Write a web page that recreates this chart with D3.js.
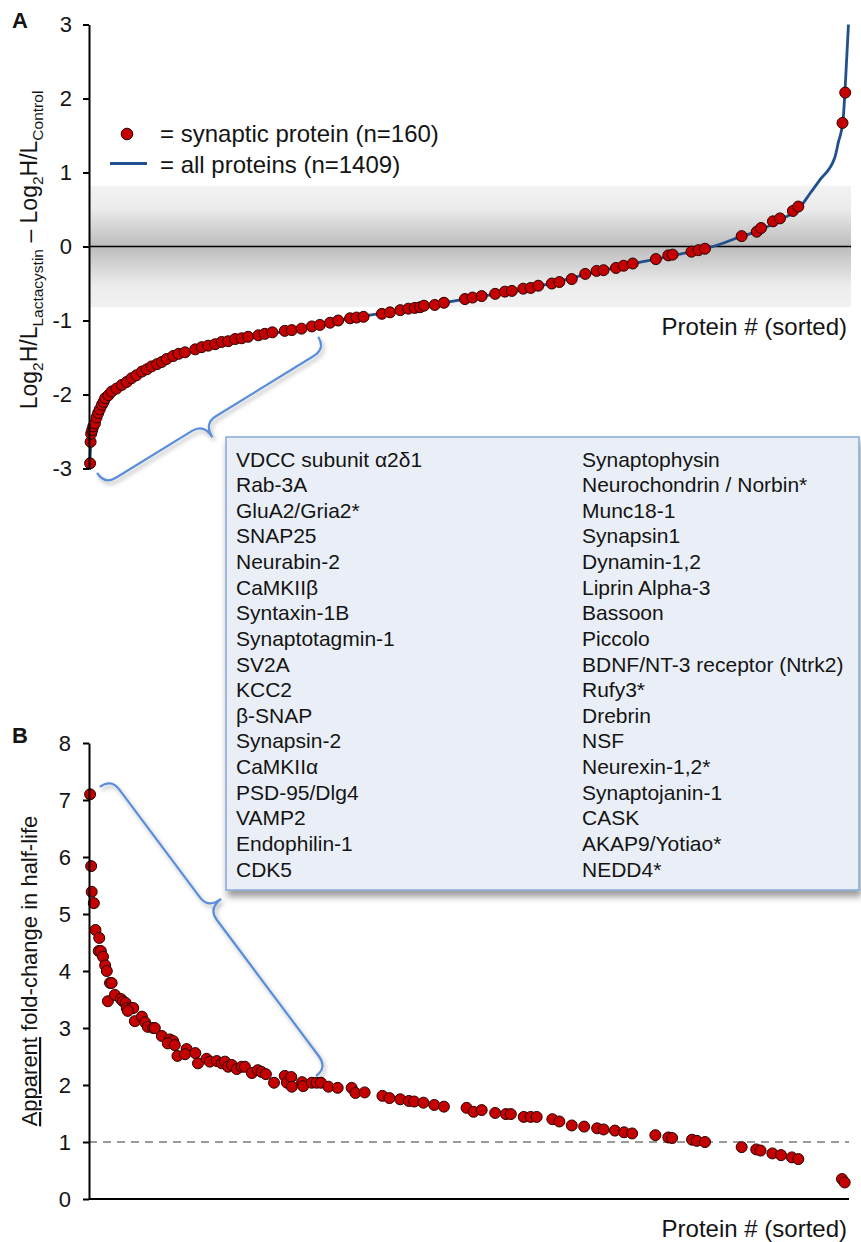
<!DOCTYPE html>
<html>
<head>
<meta charset="utf-8">
<script src="https://cdn.jsdelivr.net/npm/d3@7"></script>
<style>
  html, body { margin: 0; padding: 0; background: #fff; }
  svg { display: block; font-family: "Liberation Sans", Arial, sans-serif; }
</style>
</head>
<body>
<svg id="chart" width="861" height="1242"></svg>
<script>
// ---- data ----
var nProteins = 1409;

// all proteins, panel A: [rank, log2 difference]
var allProteinsA = [
  [1,-3.02],[3,-2.7],[6,-2.48],[11,-2.38],[20,-2.2],[30,-2.06],[42,-1.96],[70,-1.83],
  [107,-1.66],[156,-1.48],[209,-1.36],[283,-1.24],[376,-1.13],[462,-1.0],[577,-0.86],
  [697,-0.71],[819,-0.56],[920,-0.38],[1008,-0.23],[1051,-0.17],[1117,-0.07],[1157,0.0],
  [1207,0.13],[1244,0.22],[1281,0.36],[1318,0.53],[1337,0.72],[1355,0.9],[1383,1.21],
  [1389,1.4],[1398,1.71],[1402,2.16],[1408,3.0]
];

// synaptic proteins, panel A: [rank, log2 difference]
var synapticA = [
  [2,-2.93],[3,-2.64],[4,-2.53],[6,-2.48],[8,-2.43],[11,-2.39],[14,-2.31],[17,-2.25],
  [20,-2.2],[24,-2.14],[27,-2.1],[30,-2.05],[36,-2.01],[42,-1.96],[51,-1.92],[61,-1.87],
  [70,-1.83],[79,-1.78],[88,-1.74],[98,-1.69],[107,-1.66],[116,-1.62],[126,-1.59],
  [135,-1.56],[144,-1.52],[156,-1.48],[166,-1.45],[178,-1.43],[197,-1.39],[209,-1.36],
  [221,-1.34],[234,-1.32],[246,-1.29],[258,-1.28],[271,-1.25],[283,-1.24],[295,-1.22],
  [314,-1.2],[326,-1.18],[340,-1.16],[363,-1.14],[376,-1.13],[394,-1.11],[413,-1.08],
  [428,-1.06],[447,-1.03],[462,-1.0],[484,-0.97],[496,-0.96],[509,-0.95],[543,-0.91],
  [558,-0.89],[577,-0.86],[592,-0.84],[604,-0.83],[614,-0.82],[621,-0.8],[641,-0.79],
  [658,-0.76],[697,-0.71],[711,-0.69],[728,-0.67],[753,-0.64],[771,-0.61],[784,-0.6],
  [805,-0.57],[819,-0.56],[833,-0.53],[858,-0.5],[872,-0.48],[895,-0.44],[920,-0.37],
  [941,-0.33],[954,-0.32],[977,-0.29],[991,-0.26],[1008,-0.23],[1051,-0.17],[1074,-0.12],
  [1082,-0.11],[1117,-0.07],[1130,-0.05],[1142,-0.03],[1210,0.14],[1238,0.2],[1246,0.25],
  [1268,0.34],[1281,0.38],[1305,0.48],[1315,0.54],[1397,1.67],[1402,2.08]
];

// synaptic proteins, panel B: [rank, apparent fold-change in half-life]
var synapticB = [
  [2,7.1],[4,5.84],[5,5.39],[9,5.19],[12,4.72],[19,4.58],[18,4.35],[22,4.35],[26,4.25],
  [30,4.1],[33,4.0],[39,3.79],[42,3.79],[35,3.47],[48,3.58],[59,3.51],[63,3.47],[68,3.44],
  [70,3.35],[79,3.35],[82,3.35],[72,3.3],[85,3.12],[98,3.2],[104,3.1],[109,3.02],[119,3.0],
  [122,3.0],[135,2.86],[150,2.8],[156,2.77],[146,2.73],[159,2.7],[164,2.51],[181,2.63],
  [178,2.54],[197,2.56],[202,2.38],[218,2.46],[224,2.41],[237,2.42],[246,2.38],[252,2.41],
  [258,2.32],[265,2.35],[274,2.28],[283,2.32],[289,2.32],[302,2.21],[313,2.26],[320,2.23],
  [328,2.19],[343,2.04],[363,2.16],[367,2.04],[375,2.14],[376,1.97],[395,2.05],[397,1.98],
  [413,2.04],[422,2.04],[430,2.04],[444,1.97],[461,1.95],[487,1.95],[494,1.86],[511,1.87],
  [544,1.81],[557,1.77],[577,1.75],[593,1.72],[603,1.71],[620,1.69],[640,1.65],[658,1.62],
  [700,1.6],[713,1.53],[728,1.56],[753,1.51],[773,1.49],[782,1.49],[806,1.44],[819,1.44],
  [830,1.44],[859,1.4],[872,1.36],[895,1.29],[918,1.27],[942,1.24],[954,1.22],[975,1.2],
  [992,1.17],[1007,1.15],[1050,1.12],[1074,1.08],[1081,1.07],[1118,1.04],[1127,1.02],
  [1142,1.0],[1210,0.91],[1237,0.87],[1245,0.85],[1267,0.8],[1283,0.77],[1303,0.73],
  [1315,0.7],[1396,0.35],[1401,0.29]
];

var ticksA = [3, 2, 1, 0, -1, -2, -3];
var ticksB = [0, 1, 2, 3, 4, 5, 6, 7, 8];
var bandA = [-0.82, 0.82];
var refLineB = 1;
var legendA = ["= synaptic protein (n=160)", "= all proteins (n=1409)"];
var namesLeft = ["VDCC subunit \u03b12\u03b41", "Rab-3A", "GluA2/Gria2*", "SNAP25", "Neurabin-2",
  "CaMKII\u03b2", "Syntaxin-1B", "Synaptotagmin-1", "SV2A", "KCC2", "\u03b2-SNAP", "Synapsin-2",
  "CaMKII\u03b1", "PSD-95/Dlg4", "VAMP2", "Endophilin-1", "CDK5"];
var namesRight = ["Synaptophysin", "Neurochondrin / Norbin*", "Munc18-1", "Synapsin1", "Dynamin-1,2",
  "Liprin Alpha-3", "Bassoon", "Piccolo", "BDNF/NT-3 receptor (Ntrk2)", "Rufy3*", "Drebrin", "NSF",
  "Neurexin-1,2*", "Synaptojanin-1", "CASK", "AKAP9/Yotiao*", "NEDD4*"];
// brace ends in data units: [rank, value]
var braceA = [[15, -3.06], [425, -1.22]];
var braceB = [[20, 7.23], [421, 2.16]];

// ---- layout ----
var RED = "#c40000", DOT_EDGE = "#2a0000", BLUE = "#22508e", BRACE = "#5a8edb", INK = "#141414";
var svg = d3.select("#chart");
var defs = svg.append("defs");

var grad = defs.append("linearGradient").attr("id", "band")
  .attr("x1", 0).attr("y1", 0).attr("x2", 0).attr("y2", 1);
[[0, "#f2f2f2"], [0.18, "#ececec"], [0.46, "#c2c2c2"], [0.5, "#b9b9b9"], [0.54, "#c2c2c2"],
 [0.82, "#ececec"], [1, "#f2f2f2"]].forEach(function(s) {
  grad.append("stop").attr("offset", s[0]).attr("stop-color", s[1]);
});

defs.append("filter").attr("id", "boxShadow").attr("x", "-5%").attr("y", "-5%")
  .attr("width", "115%").attr("height", "115%")
  .append("feDropShadow").attr("dx", 2).attr("dy", 6).attr("stdDeviation", 3.5)
  .attr("flood-color", "#000").attr("flood-opacity", 0.4);
defs.append("filter").attr("id", "braceShadow").attr("x", "-10%").attr("y", "-10%")
  .attr("width", "130%").attr("height", "130%")
  .append("feDropShadow").attr("dx", 2).attr("dy", 3).attr("stdDeviation", 2)
  .attr("flood-color", "#000").attr("flood-opacity", 0.3);

var xA = d3.scaleLinear().domain([0, nProteins]).range([89, 849]);
var yA = d3.scaleLinear().domain([-3, 3]).range([468.5, 24.5]);
var xB = d3.scaleLinear().domain([0, nProteins]).range([89, 849]);
var yB = d3.scaleLinear().domain([0, 8]).range([1199, 743]);

function styleAxis(g) {
  g.select(".domain").attr("stroke", "#000").attr("stroke-width", 2);
  g.selectAll(".tick line").attr("stroke", "#000").attr("stroke-width", 2);
  g.selectAll(".tick text").attr("fill", INK).style("font-size", "22px");
}

function dots(g, data, x, y) {
  g.selectAll("circle").data(data).enter().append("circle")
    .attr("cx", d => x(d[0])).attr("cy", d => y(d[1])).attr("r", 5.5)
    .attr("fill", RED).attr("stroke", DOT_EDGE).attr("stroke-width", 1);
}

// curly brace between two points; side picks which way the tip points
function bracePath(p0, p1, side) {
  var dx = p1[0] - p0[0], dy = p1[1] - p0[1], len = Math.hypot(dx, dy);
  var u = [dx / len, dy / len], n = [-u[1] * side, u[0] * side];
  var h = 14, tip = 30, f = 0.45;
  function pt(a, b) { return [p0[0] + u[0] * a + n[0] * b, p0[1] + u[1] * a + n[1] * b]; }
  var m = f * len;
  var P = [pt(0, h), pt(h, h), pt(m - h, h), pt(m, h), pt(m, tip), pt(m + h, h),
           pt(len - h, h), pt(len, h)];
  return "M" + p0 + "Q" + P[0] + " " + P[1] + "L" + P[2] + "Q" + P[3] + " " + P[4] +
    "Q" + P[3] + " " + P[5] + "L" + P[6] + "Q" + P[7] + " " + p1;
}

// ================= Panel A =================
var gA = svg.append("g");

gA.append("rect")
  .attr("x", xA(0)).attr("width", 851 - xA(0))
  .attr("y", yA(bandA[1])).attr("height", yA(bandA[0]) - yA(bandA[1]))
  .attr("fill", "url(#band)");

gA.append("line")
  .attr("x1", xA(0)).attr("x2", 851).attr("y1", yA(0)).attr("y2", yA(0))
  .attr("stroke", "#000").attr("stroke-width", 1.6);

var line = d3.line().x(d => xA(d[0])).y(d => yA(d[1])).curve(d3.curveMonotoneX);
gA.append("path").datum(allProteinsA).attr("d", line)
  .attr("fill", "none").attr("stroke", BLUE).attr("stroke-width", 2.8);

dots(gA.append("g"), synapticA, xA, yA);

var axA = gA.append("g").attr("transform", "translate(" + xA(0) + ",0)")
  .call(d3.axisLeft(yA).tickValues(ticksA).tickFormat(d => String(d))
    .tickSize(6).tickSizeOuter(0).tickPadding(11));
styleAxis(axA);

gA.append("text").attr("x", 12).attr("y", 28)
  .style("font-size", "22px").style("font-weight", "bold").attr("fill", INK).text("A");

var titleA = gA.append("text")
  .attr("transform", "translate(37,250) rotate(-90)")
  .attr("text-anchor", "middle").attr("fill", INK).style("font-size", "23px");
[["Log", 0], ["2", 1], ["H/L", -1], ["Lactacystin", 1], [" \u2013 Log", -1], ["2", 1],
 ["H/L", -1], ["Control", 1]].forEach(function(p) {
  titleA.append("tspan").attr("dy", p[1] * 6)
    .style("font-size", p[1] > 0 ? "15.5px" : "23px").text(p[0]);
});

// legend
var lg = gA.append("g");
lg.append("circle").attr("cx", 127).attr("cy", 134).attr("r", 5.8)
  .attr("fill", RED).attr("stroke", DOT_EDGE).attr("stroke-width", 1);
lg.append("line").attr("x1", 110).attr("x2", 147).attr("y1", 163.5).attr("y2", 163.5)
  .attr("stroke", BLUE).attr("stroke-width", 2.8);
lg.selectAll("text.leg").data(legendA).enter().append("text").attr("class", "leg")
  .attr("x", 160).attr("y", (d, i) => 142 + i * 31)
  .attr("fill", INK).style("font-size", "24px").text(d => d);

gA.append("text").attr("x", 847).attr("y", 335).attr("text-anchor", "end")
  .attr("fill", INK).style("font-size", "24px").text("Protein # (sorted)");

gA.append("path")
  .attr("d", bracePath([xA(braceA[0][0]), yA(braceA[0][1])], [xA(braceA[1][0]), yA(braceA[1][1])], 1))
  .attr("fill", "none").attr("stroke", BRACE).attr("stroke-width", 2.2)
  .attr("filter", "url(#braceShadow)");

// ================= Panel B =================
var gB = svg.append("g");

gB.append("line")
  .attr("x1", xB(0)).attr("x2", 849).attr("y1", yB(refLineB)).attr("y2", yB(refLineB))
  .attr("stroke", "#7a7a7a").attr("stroke-width", 1.6).attr("stroke-dasharray", "8,6");

gB.append("line")
  .attr("x1", xB(0)).attr("x2", 849).attr("y1", yB(0)).attr("y2", yB(0))
  .attr("stroke", "#000").attr("stroke-width", 2);

dots(gB.append("g"), synapticB, xB, yB);

var axB = gB.append("g").attr("transform", "translate(" + xB(0) + ",0)")
  .call(d3.axisLeft(yB).tickValues(ticksB).tickFormat(d => String(d))
    .tickSize(6).tickSizeOuter(0).tickPadding(12));
styleAxis(axB);

gB.append("text").attr("x", 12).attr("y", 743)
  .style("font-size", "22px").style("font-weight", "bold").attr("fill", INK).text("B");

var titleB = gB.append("text")
  .attr("transform", "translate(37,971) rotate(-90)")
  .attr("text-anchor", "middle").attr("fill", INK).style("font-size", "22px");
titleB.append("tspan").style("text-decoration", "underline").text("Apparent");
titleB.append("tspan").text(" fold-change in half-life");

gB.append("text").attr("x", 847).attr("y", 1237).attr("text-anchor", "end")
  .attr("fill", INK).style("font-size", "24px").text("Protein # (sorted)");

gB.append("path")
  .attr("d", bracePath([xB(braceB[0][0]), yB(braceB[0][1])], [xB(braceB[1][0]), yB(braceB[1][1])], -1))
  .attr("fill", "none").attr("stroke", BRACE).attr("stroke-width", 2.2)
  .attr("filter", "url(#braceShadow)");

// ================= name box =================
var box = svg.append("g");
box.append("rect").attr("x", 226).attr("y", 437).attr("width", 633).attr("height", 453)
  .attr("fill", "#eaeff7").attr("stroke", "#86a9d8").attr("stroke-width", 1.5)
  .attr("filter", "url(#boxShadow)");

var rows = d3.scalePoint().domain(d3.range(namesLeft.length)).range([466.5, 876.5]);
[[namesLeft, 236], [namesRight, 582]].forEach(function(col) {
  box.append("g").selectAll("text").data(col[0]).enter().append("text")
    .attr("x", col[1]).attr("y", (d, i) => rows(i))
    .attr("fill", INK).style("font-size", "21px").text(d => d);
});
</script>
</body>
</html>
